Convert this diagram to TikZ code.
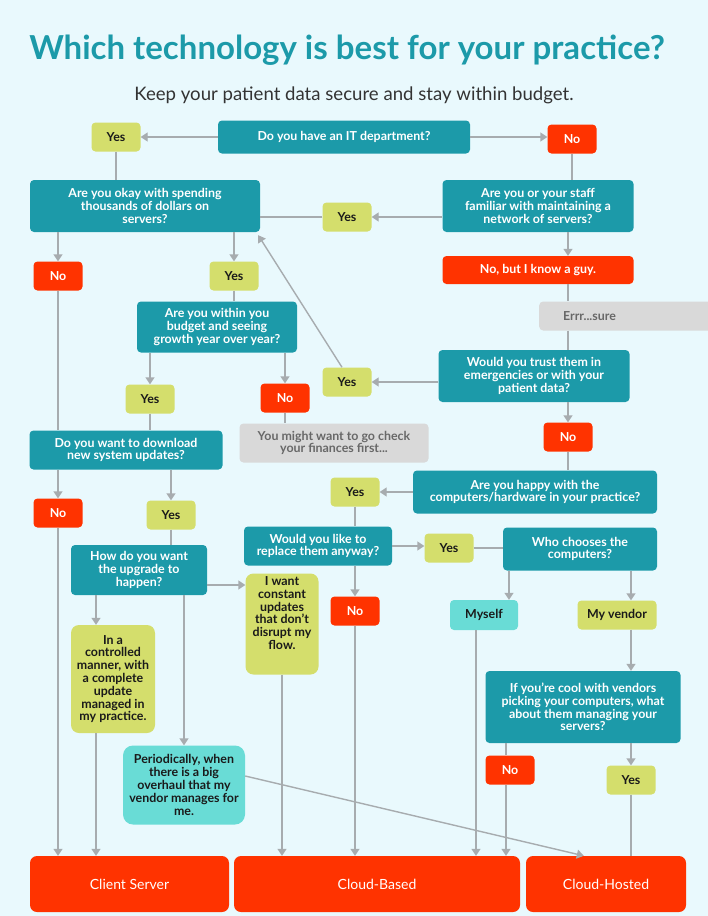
\documentclass[tikz,border=0pt]{standalone}
\usepackage{fontspec}
\setmainfont{Lato}
\usetikzlibrary{arrows.meta}
\definecolor{paper}{HTML}{E9F9FD}
\definecolor{tealq}{HTML}{1C9AA9}
\definecolor{limeg}{HTML}{D4DE6C}
\definecolor{redo}{HTML}{FF3300}
\definecolor{greyb}{HTML}{D9D9D9}
\definecolor{greyt}{HTML}{686868}
\definecolor{cyanb}{HTML}{69DCD6}
\definecolor{wire}{HTML}{A7ACAF}
\definecolor{ink}{HTML}{1A1A1A}
\definecolor{subt}{HTML}{333333}

\begin{document}
\begin{tikzpicture}[x=1pt, y=-1pt,
    box/.style={rounded corners=4pt, align=center, inner sep=1pt,
      font=\fontsize{12.4}{12.8}\selectfont\bfseries},
    qbox/.style={box, fill=tealq, text=white},
    yesbox/.style={box, fill=limeg, text=ink, minimum width=49pt, minimum height=29pt},
    nobox/.style={box, fill=redo, text=white, minimum width=49pt, minimum height=29pt},
    greybox/.style={box, fill=greyb, text=greyt},
    cyanbox/.style={box, fill=cyanb, text=ink},
    endbox/.style={rounded corners=7pt, fill=redo, text=white,
      font=\fontsize{14}{16}\selectfont, minimum height=56pt},
    link/.style={draw=wire, line width=1.4pt},
    arr/.style={link, -{Triangle[length=7pt, width=9pt]}}]
  \useasboundingbox (0,0) rectangle (708,916);
  \fill[paper] (0,0) rectangle (708,916);

  % heading
  \node[text=tealq, font=\fontsize{33}{36}\selectfont\bfseries] (title) at (347,50)
    {Which technology is best for your practice?};
  \node[text=subt, font=\fontsize{18.6}{21}\selectfont] (subtitle) at (354,95)
    {Keep your patient data secure and stay within budget.};

  % questions
  \node[qbox, minimum width=252pt, minimum height=33pt] (itdept) at (344,137)
    {Do you have an IT department?};
  \node[qbox, minimum width=230pt, minimum height=52pt] (spend) at (145,206)
    {Are you okay with spending\\thousands of dollars on\\servers?};
  \node[qbox, minimum width=191pt, minimum height=52pt] (familiar) at (538,206)
    {Are you or your staff\\familiar with maintaining a\\network of servers?};
  \node[qbox, minimum width=191pt, minimum height=52pt] (trust) at (534,376)
    {Would you trust them in\\emergencies or with your\\patient data?};
  \node[qbox, minimum width=244pt, minimum height=43pt] (happy) at (535,492)
    {Are you happy with the\\computers/hardware in your practice?};
  \node[qbox, minimum width=148pt, minimum height=39pt] (replace) at (318,546)
    {Would you like to\\replace them anyway?};
  \node[qbox, minimum width=154pt, minimum height=43pt] (choose) at (580,549)
    {Who chooses the\\computers?};
  \node[qbox, minimum width=195pt, minimum height=72pt] (managing) at (583,707)
    {If you're cool with vendors\\picking your computers, what\\about them managing your\\servers?};
  \node[qbox, minimum width=160pt, minimum height=51pt] (budget) at (217,327)
    {Are you within you\\budget and seeing\\growth year over year?};
  \node[qbox, minimum width=193pt, minimum height=39pt] (download) at (126,450)
    {Do you want to download\\new system updates?};
  \node[qbox, minimum width=136pt, minimum height=50pt] (upgrade) at (139,570)
    {How do you want\\the upgrade to\\happen?};

  % answers
  \foreach \n/\x/\y in {yesit/116/137, yesfam/347/217, yestrust/347/382,
      yeshappy/355/492, yesreplace/449/548, yesmanage/631/780,
      yesspend/234/276, yesbudget/150/399, yesdownload/171/515}
    \node[yesbox] (\n) at (\x,\y) {Yes};
  \foreach \n/\x/\y in {noit/572/139, notrust/568/437, noreplace/355/611,
      nomanage/510/770, nospend/58/276, nobudget/285/398, nodownload/58/513}
    \node[nobox] (\n) at (\x,\y) {No};
  \node[box, fill=redo, text=white, minimum width=191pt, minimum height=28pt] (knowguy)
    at (538,270) {No, but I know a guy.};
  \node[greybox, anchor=west, text width=150pt, inner xsep=24pt, align=left,
    minimum height=29pt] (errsure) at (539,316) {Errr...sure};
  \node[greybox, minimum width=189pt, minimum height=39pt] (finances) at (334,443)
    {You might want to go check\\your finances first...};
  \node[cyanbox, minimum width=68pt, minimum height=30pt] (myself) at (484,615) {Myself};
  \node[yesbox, minimum width=79pt] (vendor) at (617,615) {My vendor};
  \node[yesbox, rounded corners=8pt, minimum width=84pt, minimum height=108pt] (controlled)
    at (113,679) {In a\\controlled\\manner, with\\a complete\\update\\managed in\\my practice.};
  \node[yesbox, rounded corners=8pt, minimum width=73pt, minimum height=101pt,
    text depth=22pt] (constant) at (282,624)
    {I want\\constant\\updates\\that don't\\disrupt my\\flow.};
  \node[cyanbox, rounded corners=10pt, minimum width=122pt, minimum height=79pt] (periodic)
    at (184,785) {Periodically, when\\there is a big\\overhaul that my\\vendor manages for\\me.};

  % outcomes
  \node[endbox, minimum width=199pt] (clientserver) at (129.5,884) {Client Server};
  \node[endbox, minimum width=286pt] (cloudbased) at (377,884) {Cloud-Based};
  \node[endbox, minimum width=160pt] (cloudhosted) at (606,884) {Cloud-Hosted};

  % right branch
  \draw[arr] (itdept.west) -- (yesit.east);
  \draw[arr] (itdept.east) -- (itdept.east -| noit.west);
  \draw[link] (yesit.south) -- (yesit.south |- spend.north);
  \draw[link] (noit.south) -- (noit.south |- familiar.north);
  \draw[arr] (familiar.west |- yesfam) -- (yesfam.east);
  \draw[link] (yesfam.west) -- (yesfam.west -| spend.east);
  \draw[arr] (notrust |- familiar.south) -- (notrust |- knowguy.north);
  \draw[link] (notrust |- knowguy.south) -- (notrust |- errsure.north);
  \draw[link] (notrust |- errsure.south) -- (notrust |- trust.north);
  \draw[arr] (trust.west |- yestrust) -- (yestrust.east);
  \draw[arr] ([xshift=-5pt]yestrust.north) -- ([xshift=-2pt,yshift=-3pt]spend.south east);
  \draw[arr] (notrust |- trust.south) -- (notrust.north);
  \draw[link] (notrust.south) -- (notrust |- happy.north);
  \draw[arr] (happy.west |- yeshappy) -- (yeshappy.east);
  \draw[link] (yeshappy.south) -- (yeshappy |- replace.north);
  \draw[arr] (replace.east) -- (replace.east -| yesreplace.west);
  \draw[link] (yesreplace.east) -- (yesreplace.east -| choose.west);
  \draw[arr] (noreplace |- replace.south) -- (noreplace.north);
  \draw[arr] (noreplace.south) -- (noreplace |- cloudbased.north);
  \draw[arr] ([xshift=25pt]myself.north |- choose.south) -- ([xshift=25pt]myself.north);
  \draw[arr] ([xshift=-8pt]myself.south) -- ([xshift=-8pt]myself.south |- cloudbased.north);
  \draw[arr] (yesmanage |- choose.south) -- (yesmanage |- vendor.north);
  \draw[arr] (yesmanage |- vendor.south) -- (yesmanage |- managing.north);
  \draw[link] ([xshift=-4pt]nomanage.north |- managing.south) -- ([xshift=-4pt]nomanage.north);
  \draw[arr] ([xshift=-4pt]nomanage.south) -- ([xshift=-4pt]nomanage.south |- cloudbased.north);
  \draw[arr] (yesmanage |- managing.south) -- (yesmanage.north);
  \draw[link] (yesmanage.south) -- (yesmanage.south |- cloudhosted.north);

  % left branch
  \draw[arr] (nospend |- spend.south) -- (nospend.north);
  \draw[link] (nospend.south) -- (nospend |- download.north);
  \draw[arr] (yesspend |- spend.south) -- (yesspend.north);
  \draw[link] (yesspend.south) -- (yesspend |- budget.north);
  \draw[arr] (yesbudget |- budget.south) -- (yesbudget.north);
  \draw[arr] (nobudget |- budget.south) -- (nobudget.north);
  \draw[link] (nobudget.south) -- (nobudget |- finances.north);
  \draw[link] (yesbudget.south) -- (yesbudget |- download.north);
  \draw[arr] (nodownload |- download.south) -- (nodownload.north);
  \draw[arr] (nodownload.south) -- (nodownload |- clientserver.north);
  \draw[arr] (yesdownload |- download.south) -- (yesdownload.north);
  \draw[link] (yesdownload.south) -- (yesdownload |- upgrade.north);
  \draw[arr] ([xshift=-17pt]controlled.north |- upgrade.south) -- ([xshift=-17pt]controlled.north);
  \draw[arr] ([xshift=-17pt]controlled.south) -- ([xshift=-17pt]controlled.south |- clientserver.north);
  \draw[arr] ([yshift=-15pt]upgrade.east) -- ([yshift=-15pt]upgrade.east -| constant.west);
  \draw[arr] (periodic |- upgrade.south) -- (periodic.north);
  \draw[arr] (constant.south) -- (constant.south |- cloudbased.north);
  \draw[arr] ([yshift=9pt]periodic.east) -- ([xshift=58pt]cloudhosted.north west);
\end{tikzpicture}
\end{document}
